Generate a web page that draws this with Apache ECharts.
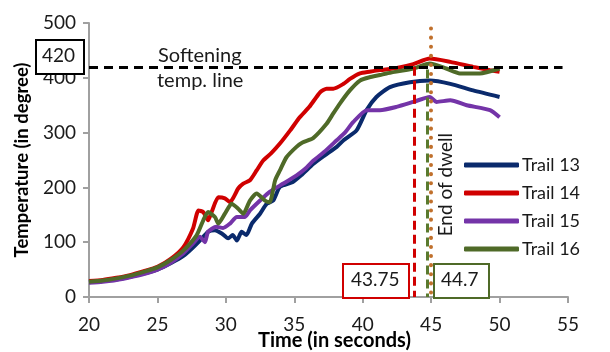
<!DOCTYPE html>
<html><head><meta charset="utf-8">
<script src="https://cdn.jsdelivr.net/npm/echarts@6/dist/echarts.min.js"></script>
<style>html,body{margin:0;padding:0;background:#fff}#c{width:610px;height:352px}</style>
</head><body><div id="c"></div>
<script>
const seriesNames = ['Trail 13', 'Trail 14', 'Trail 15', 'Trail 16'];
const xTicks = [20, 25, 30, 35, 40, 45, 50, 55];
const yTicks = [0, 100, 200, 300, 400, 500];

const trail13 = [[20,27],[21,29],[22,32],[23,37],[24,43],[25,50],[26,62],[26.9,75],[27.5,88],[28.1,103],[28.7,119],[29.2,122],[29.7,116],[30.17,107],[30.5,113],[30.8,103],[31.15,119],[31.5,113],[31.9,134],[32.5,152],[32.98,170],[33.46,176],[33.95,201],[34.9,210],[35.5,222],[36.4,243],[37.2,258],[38.1,274],[38.6,286],[39.55,304],[40.28,341],[41.0,365],[41.99,383],[43.45,392],[44.9,395],[46.4,389],[48.07,377],[50,365]];
const trail14 = [[20,29],[21,31],[22,35],[23,40],[24,47],[25,55],[26,70],[26.9,91],[27.6,125],[28.0,158],[28.35,155],[28.7,140],[28.96,155],[29.45,182],[29.93,180],[30.3,173],[30.9,198],[31.27,207],[31.76,213],[32.25,231],[32.73,249],[33.3,262],[33.95,280],[34.7,304],[35.4,328],[36.1,347],[36.9,374],[37.36,380],[37.85,380],[38.6,389],[39.07,398],[39.8,408],[40.5,411],[41.26,414],[42.5,418],[43.7,425],[44.9,435],[46.4,429],[48.07,420],[49.3,414],[50,411]];
const trail15 = [[20,26],[21,28],[22,31],[23,36],[24,42],[25,50],[26,63],[26.9,80],[27.5,95],[28.1,110],[28.47,100],[28.7,119],[29.3,128],[29.8,126],[30.3,134],[30.8,146],[31.4,146],[31.76,158],[32.5,176],[33.2,192],[34.2,207],[35.17,222],[35.8,234],[36.4,249],[37.2,265],[38.1,286],[38.7,300],[39.3,319],[40.3,341],[41.26,341],[42.47,347],[43.7,356],[44.9,365],[45.4,356],[46.4,359],[47.6,350],[49.3,341],[50,328]];
const trail16 = [[20,28],[21,30],[22,34],[23,39],[24,46],[25,54],[26,68],[26.9,85],[27.87,113],[28.35,140],[28.7,155],[29.2,146],[29.45,134],[29.93,152],[30.42,170],[30.9,161],[31.27,152],[31.76,176],[32.25,189],[32.86,176],[33.2,173],[33.6,213],[33.95,231],[34.43,255],[35.16,274],[35.6,282],[36.38,290],[37.36,316],[37.85,335],[38.33,353],[39.06,377],[39.8,395],[40.5,401],[41.26,405],[41.74,408],[43.7,417],[44.9,426],[46.1,417],[47.1,408],[48.56,408],[50,417]];

const softeningTemp = 420;
const endTimeRed = 43.75;
const endTimeGreen = 44.7;
const endOfDwell = 45;

const colors = ['#0a2a6c', '#d00000', '#7434a8', '#4f6a28'];
const font = 'Lato, "Open Sans", sans-serif';
const ink = '#1a1a1a';

const chart = echarts.init(document.getElementById('c'), null, {renderer: 'canvas'});
const lineSeries = [trail13, trail14, trail15, trail16].map((d, i) => ({
  name: seriesNames[i], type: 'line', data: d, symbol: 'none', smooth: 0.2,
  lineStyle: {width: 4, color: colors[i]}, itemStyle: {color: colors[i]}, z: 3
}));

function vline(x, yTop, color, type, width, cap) {
  return {
    type: 'line', data: [], silent: true,
    markLine: {silent: true, symbol: 'none', label: {show: false},
      lineStyle: {color: color, type: type, width: width, cap: cap || 'butt'},
      data: [[{coord: [x, yTop]}, {coord: [x, 0]}]]}
  };
}

chart.setOption({
  animation: false,
  color: colors,
  grid: {left: 89, right: 42, top: 23, bottom: 55, containLabel: false, outerBoundsMode: 'none'},
  xAxis: {type: 'value', min: xTicks[0], max: xTicks[xTicks.length-1], interval: 5,
    name: 'Time (in seconds)', nameLocation: 'middle', nameGap: 34, nameMoveOverlap: false,
    nameTextStyle: {fontFamily: font, fontWeight: 'bold', fontSize: 20, color: '#000', padding: [0,0,0,12]},
    axisLine: {lineStyle: {color: '#a0a0a0', width: 2}},
    axisTick: {show: true, length: 6, lineStyle: {color: '#a0a0a0', width: 2}},
    axisLabel: {fontFamily: font, fontSize: 19, color: ink, margin: 18},
    splitLine: {show: false}},
  yAxis: {type: 'value', min: yTicks[0], max: yTicks[yTicks.length-1], interval: 100,
    name: 'Temperature (in degree)', nameLocation: 'middle', nameGap: 57, nameMoveOverlap: false,
    nameTextStyle: {fontFamily: font, fontWeight: 'bold', fontSize: 18.5, color: '#000'},
    axisLine: {show: true, lineStyle: {color: '#a0a0a0', width: 2}},
    axisTick: {show: true, length: 6, lineStyle: {color: '#a0a0a0', width: 2}},
    axisLabel: {fontFamily: font, fontSize: 19, color: ink, margin: 13},
    splitLine: {show: false}},
  legend: {orient: 'vertical', left: 459, top: 151, itemWidth: 55, itemHeight: 5,
    itemGap: 10, icon: 'roundRect', data: seriesNames,
    textStyle: {fontFamily: font, fontSize: 18, color: ink, lineHeight: 18, padding: [0,0,0,-2]}},
  series: [
    {type: 'line', data: [], silent: true,
      markLine: {silent: true, symbol: 'none', label: {show: false},
        lineStyle: {color: '#000', type: [9, 6], width: 3},
        data: [[{coord: [xTicks[0], softeningTemp]}, {coord: [54.6, softeningTemp]}]]}},
    ...lineSeries,
    vline(endTimeRed, softeningTemp, '#d00000', [9, 5], 3),
    vline(endTimeGreen, 415, '#5a7a2e', [9, 5], 3),
    vline(endOfDwell, 490, '#c0702c', [0.1, 9], 4, 'round')
  ],
  graphic: [
    {type: 'rect', left: 35, top: 39, shape: {width: 48, height: 34}, style: {fill: '#fff', stroke: '#000', lineWidth: 2}, z: 10},
    {type: 'text', left: 42, top: 46, style: {text: '420', font: '19px ' + font, fill: ink}, z: 11},
    {type: 'text', left: 158, top: 46, style: {text: 'Softening', font: '20px ' + font, fill: ink}, z: 11},
    {type: 'text', left: 157, top: 71, style: {text: 'temp. line', font: '20px ' + font, fill: ink}, z: 11},
    {type: 'rect', left: 342, top: 263, shape: {width: 66, height: 34}, style: {fill: '#fff', stroke: '#d00000', lineWidth: 2}, z: 10},
    {type: 'text', left: 351, top: 270, style: {text: '43.75', font: '19px ' + font, fill: ink}, z: 11},
    {type: 'rect', left: 433, top: 263, shape: {width: 55, height: 34}, style: {fill: '#fff', stroke: '#4f6a28', lineWidth: 2}, z: 10},
    {type: 'text', left: 441, top: 270, style: {text: '44.7', font: '19px ' + font, fill: ink}, z: 11},
    {type: 'text', left: 436, top: 133, rotation: Math.PI / 2, style: {text: 'End of dwell', font: '19px ' + font, fill: ink}, z: 11}
  ]
});
</script></body></html>
